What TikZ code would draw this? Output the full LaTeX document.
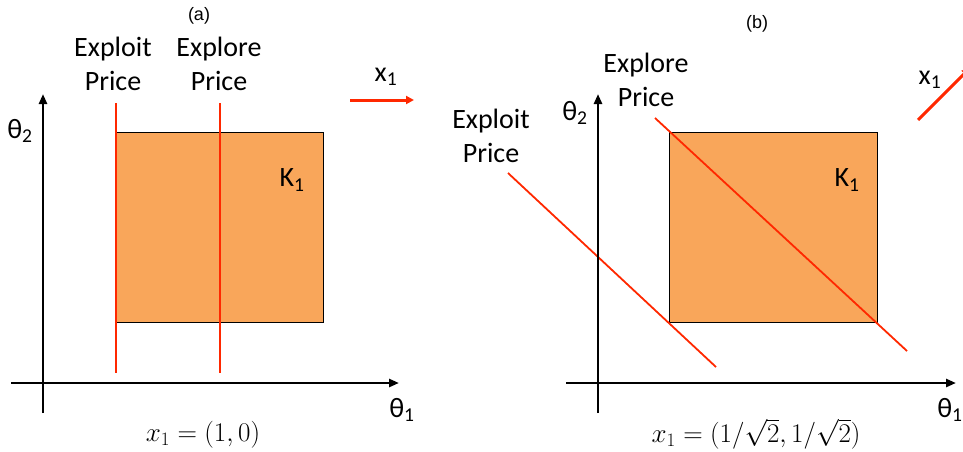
\RequirePackage{fix-cm}
\documentclass[tikz,border=0pt]{standalone}
\usepackage{fontspec}
\setmainfont{Carlito}
\newfontfamily\arialfont{Liberation Sans}
\usetikzlibrary{arrows.meta}
\definecolor{boxorange}{RGB}{249,166,90}
\definecolor{pricered}{RGB}{255,40,0}
\tikzset{
  axis/.style={line width=2.6pt,-{Triangle[length=10pt,width=8pt]}},
  kbox/.style={draw=black,line width=0.8pt,fill=boxorange},
  price/.style={draw=pricered,line width=1.8pt},
  dirarrow/.style={draw=pricered,line width=3pt,-{Triangle[length=8pt,width=8pt]}},
  lbl/.style={font=\fontsize{28}{34}\selectfont,align=center,inner sep=0pt},
  panel/.style={font=\arialfont\fontsize{18}{20}\selectfont,inner sep=0pt},
  formula/.style={font=\fontsize{27}{30}\selectfont,inner sep=0pt}
}
\begin{document}
\begin{tikzpicture}[x=1pt,y=-1pt]
\useasboundingbox (0,0) rectangle (963,451);
\clip (0,0) rectangle (963,451);
% ---------- panel (a)
\node[panel] (pa) at (199,16) {(a)};
\node[kbox,minimum width=207pt,minimum height=190pt,inner sep=0pt] (ka) at (219.5,227) {};
\coordinate (a1t) at (116,103); \coordinate (a1b) at (116,373);
\coordinate (a2t) at (220,103); \coordinate (a2b) at (220,373);
\draw[price] (a1t) -- (a1b);
\draw[price] (a2t) -- (a2b);
\coordinate (ayb) at (43,413); \coordinate (ayt) at (43,94);
\coordinate (axl) at (11,383); \coordinate (axr) at (399,383);
\draw[axis] (ayb) -- (ayt);
\draw[axis] (axl) -- (axr);
\node[lbl] (expla) at (113,64) {Exploit\\Price};
\node[lbl] (expra) at (219,64) {Explore\\Price};
\node[lbl] (k1a) at (292,180) {K$_{\mathrm{1}}$};
\node[lbl] (t2a) at (20,131) {θ\textsubscript{2}};
\node[lbl] (t1a) at (402,410) {θ\textsubscript{1}};
\node[lbl] (x1a) at (386,77) {x\textsubscript{1}};
\coordinate (xas) at (350,100); \coordinate (xae) at (414,100);
\draw[dirarrow] (xas) -- (xae);
\node[formula] (fa) at (203,435) {$x_1=(1,0)$};
% ---------- panel (b)
\node[panel] (pb) at (757,24) {(b)};
\node[kbox,minimum width=208pt,minimum height=190pt,inner sep=0pt] (kb) at (773,227) {};
\coordinate (b2t) at (655,118); \coordinate (b2b) at (907,351);
\coordinate (b1t) at (508,173); \coordinate (b1b) at (716,367);
\draw[price] (b2t) -- (b2b);
\draw[price] (b1t) -- (b1b);
\coordinate (byb) at (598,413); \coordinate (byt) at (598,94);
\coordinate (bxl) at (566,383); \coordinate (bxr) at (956,383);
\draw[axis] (byb) -- (byt);
\draw[axis] (bxl) -- (bxr);
\node[lbl] (explb) at (491,136) {Exploit\\Price};
\node[lbl] (exprb) at (646,80) {Explore\\Price};
\node[lbl] (k1b) at (847,180) {K$_{\mathrm{1}}$};
\node[lbl] (t2b) at (575,113) {θ\textsubscript{2}};
\node[lbl] (t1b) at (950,410) {θ\textsubscript{1}};
\node[lbl] (x1b) at (930,80) {x\textsubscript{1}};
\coordinate (xbs) at (918,120); \coordinate (xbe) at (970,68);
\draw[dirarrow] (xbs) -- (xbe);
\node[formula] (fb) at (756,434) {$x_1=(1/\sqrt{2},1/\sqrt{2})$};
\end{tikzpicture}
\end{document}
